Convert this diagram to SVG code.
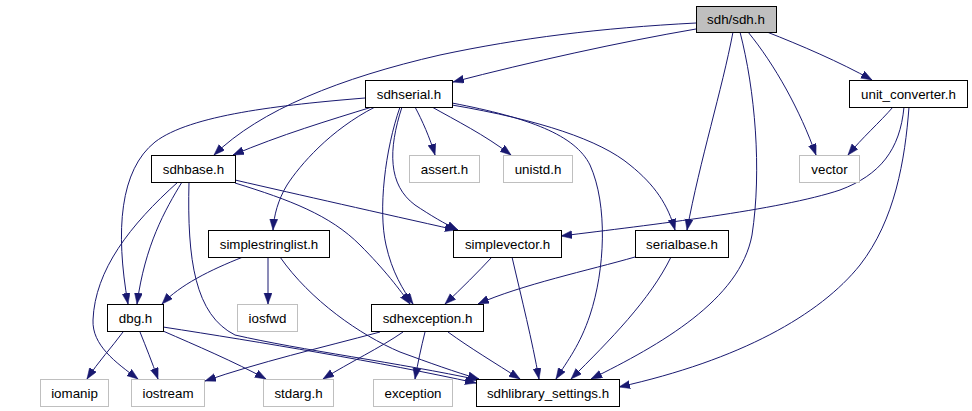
<svg xmlns="http://www.w3.org/2000/svg" width="972" height="411" viewBox="0 0 972 411">
<style>
.e{fill:none;stroke:#191970;stroke-width:1;marker-end:url(#ah)}
.n rect{fill:#ffffff;stroke:#000000;stroke-width:1}
.g rect{fill:#ffffff;stroke:#bfbfbf;stroke-width:1}
.root rect{fill:#bfbfbf;stroke:#000000;stroke-width:1}
text{font-family:"Liberation Sans",Arial,Helvetica,sans-serif;font-size:13.33px;text-anchor:middle;fill:#000000}
</style>
<defs>
<marker id="ah" markerUnits="userSpaceOnUse" markerWidth="12" markerHeight="9" refX="11" refY="4" orient="auto" viewBox="0 0 12 9">
<path d="M0,0 L11,4 L0,8 z" fill="#191970" stroke="#191970" stroke-width="0.5"/>
</marker>
</defs>
<rect width="972" height="411" fill="#ffffff"/>
<g id="connectors">
<path class="e" d="M696,23 C600,28 520,38 440,55 C340,78 260,110 214,155"/>
<path class="e" d="M696,29 C620,42 530,62 453,82"/>
<path class="e" d="M767,32 C800,45 840,62 872,80"/>
<path class="e" d="M748,32 C775,65 800,110 816,155"/>
<path class="e" d="M733,32 C722,90 700,160 687,230"/>
<path class="e" d="M740,32 C755,90 762,170 752,235 C740,300 660,345 591,379"/>
<path class="e" d="M365,98 C280,105 190,115 155,142 C120,170 115,230 128,304"/>
<path class="e" d="M372,107 C330,120 280,135 233,155"/>
<path class="e" d="M375,107 C330,130 300,165 287,185 C278,200 274,215 273,230"/>
<path class="e" d="M400,107 C385,150 378,210 386,245 C392,272 403,290 413,304"/>
<path class="e" d="M402,107 C388,150 388,185 415,205 C430,215 445,224 458,230"/>
<path class="e" d="M415,107 C422,120 430,138 435,155"/>
<path class="e" d="M432,107 C455,120 485,135 511,155"/>
<path class="e" d="M452,103 C530,118 575,135 590,165 C608,205 605,270 590,315 C580,345 568,360 556,379"/>
<path class="e" d="M452,105 C540,120 600,140 630,165 C655,185 668,205 675,230"/>
<path class="e" d="M178,182 C130,225 95,270 93,320 C92,345 115,362 138,379"/>
<path class="e" d="M182,182 C165,210 145,245 137,304"/>
<path class="e" d="M189,182 C187,260 195,315 235,335 C300,350 400,363 479,380"/>
<path class="e" d="M235,180 C300,195 380,213 456,230"/>
<path class="e" d="M235,183 C290,200 330,215 360,245 C385,270 400,290 410,304"/>
<path class="e" d="M243,257 C210,270 180,285 162,304"/>
<path class="e" d="M268,257 L268,304"/>
<path class="e" d="M280,257 C310,300 360,335 400,352 C430,363 455,372 479,379"/>
<path class="e" d="M123,332 C112,347 98,362 87,379"/>
<path class="e" d="M140,332 C146,347 152,362 158,379"/>
<path class="e" d="M163,331 C195,345 235,362 266,379"/>
<path class="e" d="M163,327 C260,342 380,362 476,383"/>
<path class="e" d="M380,332 C320,348 260,362 205,381"/>
<path class="e" d="M403,332 C380,348 350,362 323,379"/>
<path class="e" d="M425,332 C421,348 418,362 415,379"/>
<path class="e" d="M448,332 C470,348 495,363 520,379"/>
<path class="e" d="M635,257 C590,270 520,285 478,304"/>
<path class="e" d="M671,257 C650,300 610,340 571,379"/>
<path class="e" d="M492,257 C478,272 462,288 445,304"/>
<path class="e" d="M512,257 C522,300 532,340 539,379"/>
<path class="e" d="M893,107 C880,122 862,138 848,155"/>
<path class="e" d="M904,107 C900,150 880,175 840,190 C780,210 650,225 561,236"/>
<path class="e" d="M909,107 C905,160 895,220 860,265 C820,315 740,360 619,387"/>
</g>
<g id="node-sdh" class="root"><rect x="696.5" y="6.5" width="80" height="26"/><text x="736" y="24">sdh/sdh.h</text></g>
<g id="node-sdhserial" class="n"><rect x="365.5" y="80.5" width="87" height="27"/><text x="409" y="98.5">sdhserial.h</text></g>
<g id="node-unit_converter" class="n"><rect x="849.5" y="80.5" width="118" height="27"/><text x="908.5" y="98.5">unit_converter.h</text></g>
<g id="node-sdhbase" class="n"><rect x="151.5" y="155.5" width="84" height="27"/><text x="193.5" y="173.5">sdhbase.h</text></g>
<g id="node-assert" class="g"><rect x="409.5" y="155.5" width="70" height="27"/><text x="444.5" y="173.5">assert.h</text></g>
<g id="node-unistd" class="g"><rect x="503.5" y="155.5" width="69" height="27"/><text x="538" y="173.5">unistd.h</text></g>
<g id="node-vector" class="g"><rect x="799.5" y="155.5" width="60" height="27"/><text x="829.5" y="173.5">vector</text></g>
<g id="node-simplestringlist" class="n"><rect x="208.5" y="230.5" width="121" height="27"/><text x="269" y="248.5">simplestringlist.h</text></g>
<g id="node-simplevector" class="n"><rect x="453.5" y="230.5" width="108" height="27"/><text x="507.5" y="248.5">simplevector.h</text></g>
<g id="node-serialbase" class="n"><rect x="635.5" y="230.5" width="93" height="27"/><text x="682" y="248.5">serialbase.h</text></g>
<g id="node-dbg" class="n"><rect x="107.5" y="304.5" width="56" height="27"/><text x="135.5" y="322.5">dbg.h</text></g>
<g id="node-iosfwd" class="g"><rect x="237.5" y="304.5" width="60" height="27"/><text x="267.5" y="322.5">iosfwd</text></g>
<g id="node-sdhexception" class="n"><rect x="371.5" y="304.5" width="112" height="27"/><text x="427.5" y="322.5">sdhexception.h</text></g>
<g id="node-iomanip" class="g"><rect x="40.5" y="379.5" width="68" height="27"/><text x="74.5" y="397.5">iomanip</text></g>
<g id="node-iostream" class="g"><rect x="131.5" y="379.5" width="73" height="27"/><text x="168" y="397.5">iostream</text></g>
<g id="node-stdarg" class="g"><rect x="263.5" y="379.5" width="70" height="27"/><text x="298.5" y="397.5">stdarg.h</text></g>
<g id="node-exception" class="g"><rect x="373.5" y="379.5" width="79" height="27"/><text x="413" y="397.5">exception</text></g>
<g id="node-sdhlibrary_settings" class="n"><rect x="476.5" y="379.5" width="143" height="27"/><text x="548" y="397.5">sdhlibrary_settings.h</text></g>
</svg>
